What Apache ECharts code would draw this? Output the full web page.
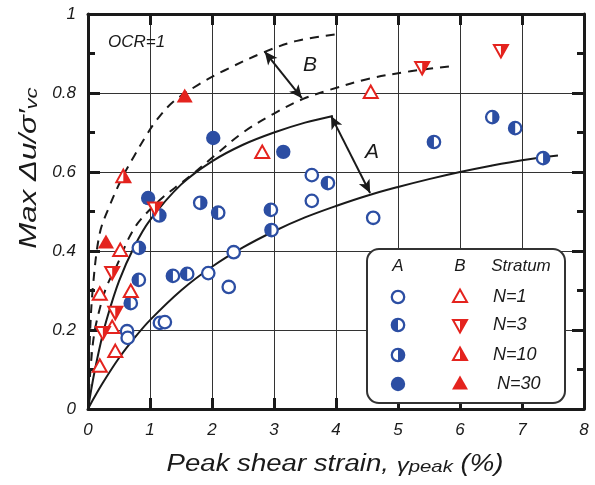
<!DOCTYPE html>
<html><head><meta charset="utf-8">
<script src="https://cdn.jsdelivr.net/npm/echarts@6/dist/echarts.min.js"></script>
<style>html,body{margin:0;padding:0;background:#fff}#c{width:595px;height:485px}</style>
</head><body><div id="c"></div>
<script>
// ---- data ----
const xTicks = [0,1,2,3,4,5,6,7,8];
const yTicks = [0,0.2,0.4,0.6,0.8,1];
// Group A (circles)
const A_N1  = [[0.63,0.197],[0.64,0.18],[1.16,0.218],[1.24,0.22],[1.94,0.344],[2.35,0.397],[2.27,0.309],[3.61,0.592],[3.61,0.527],[4.6,0.484]];
const A_N3  = [[0.82,0.327],[0.69,0.268],[1.37,0.337],[1.6,0.342],[2.10,0.497],[2.95,0.504],[2.96,0.453],[3.87,0.572],[5.58,0.676],[6.89,0.711]];
const A_N10 = [[0.82,0.408],[1.15,0.49],[1.81,0.522],[6.52,0.739],[7.34,0.635]];
const A_N30 = [[0.97,0.534],[2.02,0.686],[3.15,0.651]];
// Group B (triangles)
const B_N1  = [[0.52,0.40],[0.19,0.289],[0.69,0.296],[0.39,0.205],[0.44,0.144],[0.19,0.107],[2.81,0.648],[4.56,0.80]];
const B_N3  = [[0.39,0.347],[0.44,0.246],[0.24,0.195],[1.08,0.51],[5.39,0.866],[6.66,0.909]];
const B_N10 = [[0.57,0.587]];
const B_N30 = [[0.29,0.42],[1.56,0.79]];
// Bounding curves
const curveA_lower = [[0,0],[0.1,0.029],[0.25,0.069],[0.5,0.129],[0.75,0.18],[1,0.225],[1.5,0.30],[2,0.36],[2.5,0.409],[3,0.45],[3.5,0.485],[4,0.514],[4.5,0.54],[5,0.562],[5.5,0.582],[6,0.60],[6.5,0.616],[7,0.63],[7.58,0.642]];
const curveA_upper = [[0,0],[0.05,0.047],[0.1,0.09],[0.2,0.164],[0.3,0.226],[0.5,0.324],[0.75,0.412],[1,0.478],[1.5,0.568],[2,0.627],[2.5,0.669],[3,0.70],[3.5,0.725],[3.95,0.742]];
const curveB_lower = [[0,0],[0.04,0.1],[0.1,0.19],[0.2,0.26],[0.3,0.31],[0.47,0.365],[0.65,0.43],[0.8,0.47],[1.0,0.505],[1.2,0.535],[1.5,0.572],[1.73,0.60],[2.0,0.636],[2.5,0.70],[3.0,0.748],[3.47,0.785],[3.9,0.808],[4.5,0.835],[5.2,0.855],[5.89,0.868]];
const curveB_upper = [[0,0],[0.03,0.18],[0.08,0.31],[0.19,0.445],[0.35,0.515],[0.55,0.585],[0.75,0.642],[0.95,0.695],[1.1,0.73],[1.37,0.777],[1.77,0.82],[2.2,0.857],[2.85,0.904],[3.37,0.932],[4.06,0.95]];
const arrowB = [[2.85,0.905],[3.45,0.787]];
const arrowA = [[3.92,0.742],[4.55,0.547]];

const BLUE = '#2c4ea3', RED = '#e4231e', INK = '#1a1a1a';
const FONT = '"Liberation Sans", Arial, sans-serif';

function markerShapes(kind, x, y) {
  const r = 6.2, lw = 2.3;
  const ring = {type:'circle', shape:{cx:x,cy:y,r:r}, style:{fill:'#fff', stroke:BLUE, lineWidth:lw}};
  const up = [[x,y-7.5],[x+7,y+5],[x-7,y+5]];
  const dn = [[x-7,y-5],[x+7,y-5],[x,y+7.5]];
  switch (kind) {
    case 'c1': return [ring];
    case 'c3': return [ring, {type:'sector', shape:{cx:x,cy:y,r0:0,r:r,startAngle:Math.PI/2,endAngle:Math.PI*1.5,clockwise:true}, style:{fill:BLUE}}];
    case 'c10': return [ring, {type:'sector', shape:{cx:x,cy:y,r0:0,r:r,startAngle:-Math.PI/2,endAngle:Math.PI/2,clockwise:true}, style:{fill:BLUE}}];
    case 'c30': return [{type:'circle', shape:{cx:x,cy:y,r:r+1}, style:{fill:BLUE}}];
    case 't1': return [{type:'polygon', shape:{points:up}, style:{fill:'#fff', stroke:RED, lineWidth:2}}];
    case 't3': return [{type:'polygon', shape:{points:dn}, style:{fill:'#fff', stroke:RED, lineWidth:2}},
                       {type:'polygon', shape:{points:[[x,y-5],[x+7,y-5],[x,y+7.5]]}, style:{fill:RED}}];
    case 't10': return [{type:'polygon', shape:{points:up}, style:{fill:'#fff', stroke:RED, lineWidth:2}},
                       {type:'polygon', shape:{points:[[x,y-7.5],[x+7,y+5],[x,y+5]]}, style:{fill:RED}}];
    case 't30': return [{type:'polygon', shape:{points:[[x,y-8.5],[x+8,y+5.5],[x-8,y+5.5]]}, style:{fill:RED}}];
  }
}

function markerSeries(data, kind) {
  return {
    type:'custom', data:data, z:10, clip:false,
    renderItem:function(params, api){
      const p = api.coord([api.value(0), api.value(1)]);
      return {type:'group', children: markerShapes(kind, p[0], p[1])};
    }
  };
}
function curve(data, dashed, extra) {
  return Object.assign({
    type:'line', data:data, smooth:0.35, showSymbol:false, symbol:'none', z:5,
    lineStyle:{color:INK, width:2, type: dashed ? [9,7] : 'solid'}
  }, extra || {});
}
function arrowLine(pair) {
  return [{coord:pair[0]},{coord:pair[1]}];
}

const chart = echarts.init(document.getElementById('c'), null, {renderer:'canvas'});

const tickStyle = {color:INK, width:3};
const common = {
  min:0, axisLine:{show:true, onZero:false, lineStyle:{color:INK, width:3}},
  splitLine:{show:false}
};
const xBase = Object.assign({}, common, {type:'value', max:8, interval:1});
const yBase = Object.assign({}, common, {type:'value', max:1, interval:0.2});

// legend graphics
const LG = [];
LG.push({type:'rect', shape:{x:367,y:249,width:198,height:154,r:12}, style:{fill:'#fff', stroke:'#333', lineWidth:2}, z:100});
const legText = (t, x, y, align, size) => ({type:'text', x:x, y:y, z:101,
  style:{text:t, font:'italic '+(size||17)+'px '+FONT, fill:INK, align:align||'center', verticalAlign:'middle'}});
LG.push(legText('A',398,266));
LG.push(legText('B',460,266));
LG.push(legText('Stratum',521,266));
const rowsY = [297,325,355,384];
const labels = ['N=1','N=3','N=10','N=30'];
const aKinds = ['c1','c3','c10','c30'], bKinds = ['t1','t3','t10','t30'];
rowsY.forEach((yy,i)=>{
  markerShapes(aKinds[i],398,yy).forEach(s=>{s.z=101; LG.push(s);});
  markerShapes(bKinds[i],460,yy).forEach(s=>{s.z=101; LG.push(s);});
  LG.push(legText(labels[i], i===3?497:493, yy, 'left', 18));
});
// titles / annotations
LG.push({type:'text', x:335, y:461, z:50, scaleX:1.2, style:{
  text:'{a|Peak shear strain, }{g|γ}{s|peak}{a| (%)}', align:'center', verticalAlign:'middle',
  rich:{
    a:{font:'italic 23px '+FONT, fill:INK, lineHeight:30, verticalAlign:'bottom'},
    g:{font:'italic 20px '+FONT, fill:INK, lineHeight:30, verticalAlign:'bottom', padding:[0,0,0,0]},
    s:{font:'italic 17px '+FONT, fill:INK, lineHeight:22, verticalAlign:'bottom', padding:[14,0,0,0]}
  }}});
LG.push({type:'text', x:26, y:168, rotation:Math.PI/2, scaleX:1.3, z:50, style:{
  text:'{a|Max Δu/σ′}{s|vc}', align:'center', verticalAlign:'middle',
  rich:{
    a:{font:'italic 24px '+FONT, fill:INK, lineHeight:30, verticalAlign:'bottom'},
    s:{font:'italic 17px '+FONT, fill:INK, lineHeight:22, verticalAlign:'bottom', padding:[14,0,0,0]}
  }}});
LG.push({type:'text', x:108, y:42, z:50, style:{text:'OCR=1', font:'italic 17px '+FONT, fill:INK, align:'left', verticalAlign:'middle'}});
LG.push({type:'text', x:310, y:65, z:50, style:{text:'B', font:'italic 21px '+FONT, fill:INK, align:'center', verticalAlign:'middle'}});
LG.push({type:'text', x:372, y:152, z:50, style:{text:'A', font:'italic 21px '+FONT, fill:INK, align:'center', verticalAlign:'middle'}});

const option = {
  animation:false,
  backgroundColor:'#fff',
  grid:{left:88, right:11, top:14, bottom:76, containLabel:false},
  xAxis:[
    Object.assign({}, xBase, {position:'bottom',
      axisTick:{show:true, inside:true, length:11, lineStyle:tickStyle},
      axisLabel:{show:true, margin:13, color:INK, fontFamily:FONT, fontStyle:'italic', fontSize:17,
        formatter:v=> xTicks.includes(v) ? String(v) : ''},
      splitLine:{show:true, lineStyle:{color:'#333', width:1}}}),
    Object.assign({}, xBase, {position:'top',
      axisTick:{show:true, inside:true, length:11, lineStyle:tickStyle},
      axisLabel:{show:false}})
  ],
  yAxis:[
    Object.assign({}, yBase, {position:'left',
      axisTick:{show:true, inside:true, length:12, lineStyle:tickStyle},
      minorTick:{show:true, splitNumber:2, length:7, lineStyle:tickStyle},
      axisLabel:{show:true, margin:12, color:INK, fontFamily:FONT, fontStyle:'italic', fontSize:17,
        formatter:v=> yTicks.some(t=>Math.abs(t-v)<1e-9) ? (v===0?'0':(v===1?'1':v.toFixed(1))) : ''},
      splitLine:{show:true, lineStyle:{color:'#333', width:1}}}),
    Object.assign({}, yBase, {position:'right',
      axisTick:{show:true, inside:true, length:12, lineStyle:tickStyle},
      minorTick:{show:true, splitNumber:2, length:7, lineStyle:tickStyle},
      axisLabel:{show:false}})
  ],
  graphic: LG,
  series:[
    curve(curveA_lower, false),
    curve(curveA_upper, false, {markLine:{silent:true, animation:false, symbol:['arrow','arrow'], symbolSize:[9,13],
      label:{show:false}, lineStyle:{color:INK, width:2, type:'solid'}, data:[arrowLine(arrowA), arrowLine(arrowB)]}}),
    curve(curveB_lower, true),
    curve(curveB_upper, true),
    markerSeries(A_N1,'c1'), markerSeries(A_N3,'c3'), markerSeries(A_N10,'c10'), markerSeries(A_N30,'c30'),
    markerSeries(B_N1,'t1'), markerSeries(B_N3,'t3'), markerSeries(B_N10,'t10'), markerSeries(B_N30,'t30')
  ]
};
chart.setOption(option);
</script></body></html>
